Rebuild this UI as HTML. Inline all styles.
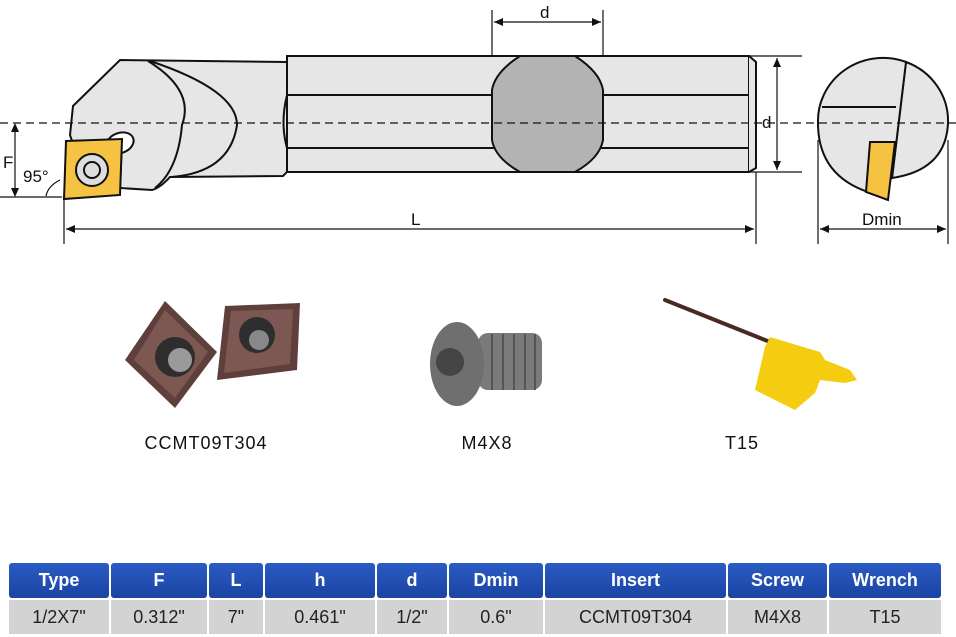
<!DOCTYPE html>
<html><head><meta charset="utf-8"><style>
body{margin:0;width:956px;height:637px;background:#fff;overflow:hidden;font-family:"Liberation Sans",sans-serif;position:relative}
.lbl{position:absolute;font-size:18px;letter-spacing:1px;color:#111;transform:translateX(-50%)}
table{position:absolute;left:7px;top:561px;border-collapse:separate;border-spacing:2px 2px}
td{text-align:center;padding:0;font-size:18px}
tr.h td{background:linear-gradient(#2a5cc4,#1b44a3);color:#fff;font-weight:bold;height:35px;border-radius:3px}
tr.d td{background:#d3d3d3;color:#222;height:34px}
</style></head><body>
<svg width="956" height="430" style="position:absolute;left:0;top:0" xmlns="http://www.w3.org/2000/svg">
<g stroke="#111" stroke-width="2" fill="#e6e6e6">
<path d="M120 60 L287 62 L287 172 L283 176 L170 177 Q160 188 152 190 L120 188 L122 140 L72 141 L70 135 L73 106 Z"/>
<path d="M148 61 Q195 90 182 125 Q178 170 155 188" fill="none"/>
<path d="M150 61 Q237 90 237 125 Q230 172 172 177" fill="none"/>
<rect x="287" y="56" width="462" height="116"/>
<path d="M287 95 Q280 123 287 148" fill="none"/>
<line x1="287" y1="95" x2="749" y2="95"/><line x1="287" y1="148" x2="749" y2="148"/>
<path d="M749 56 L756 62 L756 168 L749 172" />
<path d="M520 56 L575 56 Q600 72 603 90 L603 140 Q600 158 575 172 L520 172 Q495 158 492 140 L492 90 Q495 72 520 56 Z" fill="#b3b3b3"/>
<ellipse cx="120" cy="143" rx="14" ry="10" transform="rotate(-20 120 143)" fill="#fff"/>
<polygon points="66,141 122,139 120,195 64,199" fill="#f5c242"/>
<circle cx="92" cy="170" r="16" fill="#ddd"/><circle cx="92" cy="170" r="8" fill="#ddd"/>
<path d="M906 62 A65 63 0 0 1 948 123 Q946 170 892 178 Z"/>
<path d="M906 62 A65 63 0 0 0 818 123 Q818 175 868 192 L892 178 Z"/>
<line x1="822" y1="107" x2="896" y2="107"/>
<polygon points="870,142 895,142 888,200 866,192" fill="#f5c242"/>
</g>
<g stroke="#111" stroke-width="1.2" fill="none">
<line x1="0" y1="123" x2="956" y2="123" stroke-dasharray="8,5"/>
<line x1="0" y1="197" x2="62" y2="197"/>
<line x1="15" y1="125" x2="15" y2="195"/>
<line x1="64" y1="195" x2="64" y2="244"/>
<line x1="66" y1="229" x2="754" y2="229"/>
<line x1="756" y1="172" x2="756" y2="244"/>
<line x1="492" y1="10" x2="492" y2="56"/><line x1="603" y1="10" x2="603" y2="56"/>
<line x1="494" y1="22" x2="601" y2="22"/>
<line x1="750" y1="56" x2="802" y2="56"/><line x1="750" y1="172" x2="802" y2="172"/>
<line x1="777" y1="58" x2="777" y2="170"/>
<line x1="818" y1="140" x2="818" y2="244"/><line x1="948" y1="140" x2="948" y2="244"/>
<line x1="820" y1="229" x2="946" y2="229"/>
<path d="M46 196 Q48 186 60 180"/>
</g>
<g fill="#111">
<polygon points="15,123 11,132 19,132"/><polygon points="15,197 11,188 19,188"/>
<polygon points="66,229 75,225 75,233"/><polygon points="754,229 745,225 745,233"/>
<polygon points="494,22 503,18 503,26"/><polygon points="601,22 592,18 592,26"/>
<polygon points="777,58 773,67 781,67"/><polygon points="777,170 773,161 781,161"/>
<polygon points="820,229 829,225 829,233"/><polygon points="946,229 937,225 937,233"/>
</g>
<g font-family="Liberation Sans,sans-serif" font-size="17" fill="#111">
<text x="3" y="168">F</text><text x="23" y="182">95°</text>
<text x="411" y="225">L</text><text x="540" y="18">d</text><text x="762" y="128">d</text>
<text x="862" y="225">Dmin</text>
</g>
<!-- products -->
<g>
<polygon points="165,301 217,352 175,408 125,360" fill="#5e3f3c"/>
<polygon points="165,310 208,352 175,398 134,360" fill="#7d5752"/>
<circle cx="175" cy="357" r="20" fill="#2e2e2e"/>
<circle cx="180" cy="360" r="12" fill="#9a9a9a"/>
<polygon points="225,306 300,303 297,370 217,380" fill="#5e3f3c"/>
<polygon points="231,311 293,309 290,364 224,373" fill="#7d5752"/>
<circle cx="257" cy="335" r="18" fill="#2e2e2e"/>
<circle cx="259" cy="340" r="10" fill="#888"/>
<rect x="478" y="333" width="64" height="57" rx="10" fill="#7a7a7a"/>
<g stroke="#555" stroke-width="2"><line x1="492" y1="334" x2="492" y2="390"/><line x1="503" y1="334" x2="503" y2="390"/><line x1="514" y1="334" x2="514" y2="390"/><line x1="525" y1="334" x2="525" y2="390"/><line x1="535" y1="334" x2="535" y2="390"/></g>
<ellipse cx="457" cy="364" rx="27" ry="42" fill="#6f6f6f"/>
<circle cx="450" cy="362" r="14" fill="#454545"/>
<line x1="665" y1="300" x2="770" y2="342" stroke="#4a2a20" stroke-width="4" stroke-linecap="round"/>
<polygon points="770,337 820,352 825,360 850,370 857,380 845,383 820,380 815,393 795,410 755,390 765,347" fill="#f4cc10"/>
</g>
</svg>
<div class="lbl" style="left:206px;top:433px">CCMT09T304</div>
<div class="lbl" style="left:487px;top:433px">M4X8</div>
<div class="lbl" style="left:742px;top:433px">T15</div>
<table>
<tr class="h"><td style="width:100px">Type</td><td style="width:96px">F</td><td style="width:54px">L</td><td style="width:110px">h</td><td style="width:70px">d</td><td style="width:94px">Dmin</td><td style="width:181px">Insert</td><td style="width:99px">Screw</td><td style="width:112px">Wrench</td></tr>
<tr class="d"><td>1/2X7"</td><td>0.312"</td><td>7"</td><td>0.461"</td><td>1/2"</td><td>0.6"</td><td>CCMT09T304</td><td>M4X8</td><td>T15</td></tr>
</table>
</body></html>
